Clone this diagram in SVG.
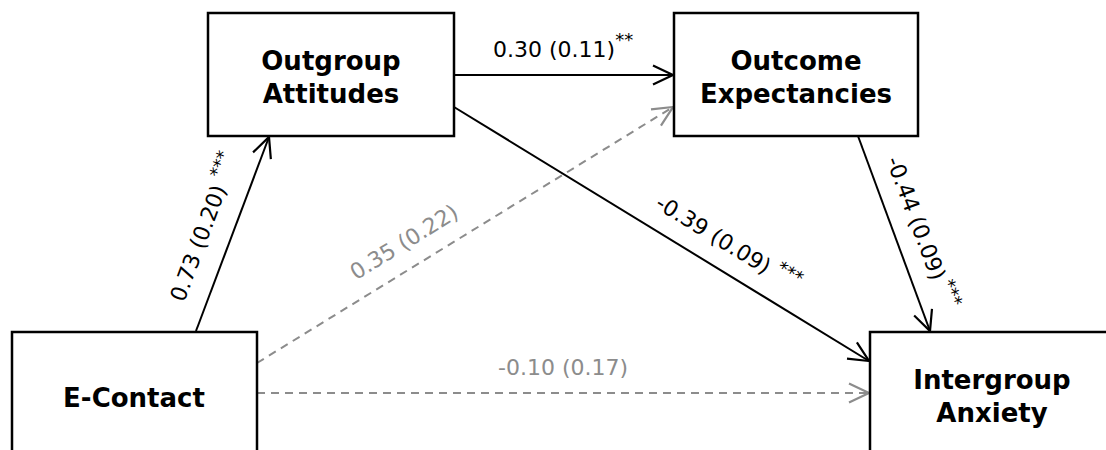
<svg xmlns="http://www.w3.org/2000/svg" width="1106" height="450" viewBox="0 0 1106 450">
<style>
.box{fill:#fff;stroke:#000;stroke-width:2.5}
.nt{font-family:"DejaVu Sans",Verdana,sans-serif;font-weight:bold;font-size:26px;fill:#000;text-anchor:middle}
.el{font-family:"DejaVu Sans",Verdana,sans-serif;font-size:22px;fill:#000}
.gl{fill:#8c8c8c}
.st{font-size:18px}
.sol{stroke:#000;stroke-width:2;fill:none;marker-end:url(#ab)}
.dsh{stroke:#8c8c8c;stroke-width:2;fill:none;stroke-dasharray:8,6;marker-end:url(#ag)}
</style>
<defs>
<marker id="ab" markerWidth="24" markerHeight="24" viewBox="-22 -12 24 24" refX="0" refY="0" orient="auto" markerUnits="userSpaceOnUse" overflow="visible">
<path d="M-20,-9.5 L0,0 L-20,9.5" fill="none" stroke="#000" stroke-width="2.2"/>
</marker>
<marker id="ag" markerWidth="24" markerHeight="24" viewBox="-22 -12 24 24" refX="0" refY="0" orient="auto" markerUnits="userSpaceOnUse" overflow="visible">
<path d="M-20,-9.5 L0,0 L-20,9.5" fill="none" stroke="#8c8c8c" stroke-width="2.2"/>
</marker>
</defs>
<rect width="1106" height="450" fill="#fff"/>
<g id="connectors">
<line class="sol" x1="196" y1="331" x2="269" y2="137"/>
<line class="sol" x1="454" y1="75" x2="673" y2="75"/>
<line class="sol" x1="454" y1="107" x2="869" y2="361"/>
<line class="dsh" x1="257" y1="363" x2="673" y2="107"/>
<line class="dsh" x1="257" y1="393" x2="869" y2="393"/>
<line class="sol" x1="858" y1="136" x2="930" y2="331"/>
<text class="el" transform="translate(184,303) rotate(-69.5)">0.73 (0.20) <tspan class="st" dy="-9">***</tspan></text>
<text class="el" x="493" y="57">0.30 (0.11)<tspan class="st" dy="-11">**</tspan></text>
<text class="el gl" text-anchor="middle" transform="translate(408,248.5) rotate(-31.6)">0.35 (0.22)</text>
<text class="el" transform="translate(654,207) rotate(31.5)">-0.39 (0.09) <tspan class="st" dy="-9">***</tspan></text>
<text class="el" transform="translate(886,160) rotate(69.4)">-0.44 (0.09)<tspan class="st" dx="4" dy="-9">***</tspan></text>
<text class="el gl" x="498" y="375">-0.10 (0.17)</text>
</g>
<g id="outgroup-attitudes">
<rect class="box" x="208" y="13" width="246" height="123"/>
<text class="nt" x="331" y="70">Outgroup</text>
<text class="nt" x="331" y="103">Attitudes</text>
</g>
<g id="outcome-expectancies">
<rect class="box" x="674" y="13" width="244" height="123"/>
<text class="nt" x="796" y="70">Outcome</text>
<text class="nt" x="796" y="103">Expectancies</text>
</g>
<g id="e-contact">
<rect class="box" x="12" y="332" width="245" height="130"/>
<text class="nt" x="134" y="407">E-Contact</text>
</g>
<g id="intergroup-anxiety">
<rect class="box" x="870" y="332" width="244" height="130"/>
<text class="nt" x="992" y="389">Intergroup</text>
<text class="nt" x="992" y="422">Anxiety</text>
</g>
</svg>
